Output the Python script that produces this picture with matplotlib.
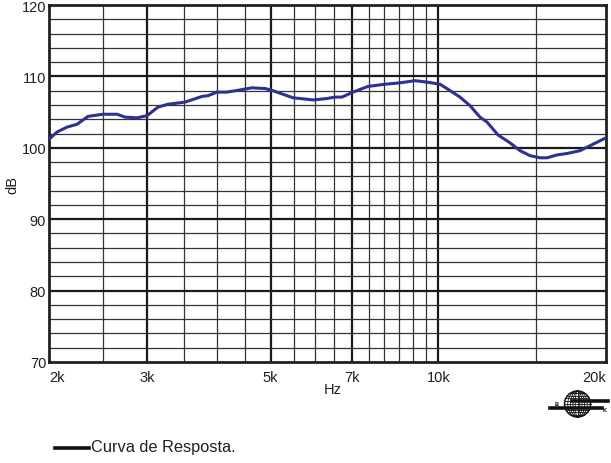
import numpy as np
import matplotlib.pyplot as plt
from matplotlib.patches import Circle, Ellipse

plt.rcParams['font.family'] = ['Liberation Sans', 'DejaVu Sans']

# response curve
freq = [2000, 2067, 2155, 2246, 2350, 2500, 2650, 2738, 2878, 3000,
        3138, 3271, 3510, 3766, 3860, 4004, 4173, 4405, 4628, 4886,
        5048, 5262, 5486, 5810, 5957, 6131, 6311, 6524, 6714, 7030,
        7478, 8022, 8534, 9084, 9543, 10070, 10408, 10938, 11400, 11880,
        12230, 12798, 13448, 14018, 14610, 15226, 15674, 16332, 17022, 17962,
        18954, 20000]
db = [101.2, 102.2, 102.9, 103.3, 104.4, 104.7, 104.7, 104.3, 104.2, 104.5,
      105.7, 106.1, 106.4, 107.2, 107.3, 107.8, 107.8, 108.1, 108.4, 108.3,
      108.0, 107.5, 107.0, 106.8, 106.7, 106.8, 106.9, 107.1, 107.1, 107.8,
      108.6, 108.9, 109.1, 109.4, 109.2, 108.9, 108.2, 107.1, 105.9, 104.3,
      103.6, 101.8, 100.7, 99.6, 98.9, 98.6, 98.6, 99.0, 99.2, 99.6,
      100.5, 101.4]

major_x = [3000, 5000, 7000, 10000]
minor_x = [2500, 3500, 4000, 4500, 5500, 6000, 6500, 7500, 8000, 8500,
           9000, 9500, 15000]
major_y = [80, 90, 100, 110]
minor_y = [y for y in range(72, 120, 2) if y % 10 != 0]
xtick_vals = [2000, 3000, 5000, 7000, 10000, 20000]
xtick_labels = ['2k', '3k', '5k', '7k', '10k', '20k']
ytick_vals = [70, 80, 90, 100, 110, 120]

fig = plt.figure(figsize=(6.11, 4.64), dpi=100)
ax = fig.add_axes([49 / 611, 101 / 464, 557 / 611, 357 / 464])
ax.set_xscale('log')
ax.set_xlim(2000, 20000)
ax.set_ylim(70, 120)

for x in minor_x:
    ax.axvline(x, color='#333333', lw=0.9, zorder=1)
for x in major_x:
    ax.axvline(x, color='#1a1a1a', lw=1.6, zorder=1)
for y in minor_y:
    ax.axhline(y, color='#333333', lw=0.9, zorder=1)
for y in major_y:
    ax.axhline(y, color='#1a1a1a', lw=1.6, zorder=1)

ax.plot(freq, db, color='#2E3192', lw=2.2, zorder=3, solid_capstyle='round')

for s in ax.spines.values():
    s.set_linewidth(2.0)
    s.set_color('#231f20')

ax.minorticks_off()
ax.set_xticks([])
ax.set_yticks(ytick_vals)
ax.set_yticklabels([str(v) for v in ytick_vals], fontsize=10.5, color='#231f20')
ax.tick_params(axis='y', length=0, pad=2)

# x labels placed under the axis
for v, lab in zip(xtick_vals, xtick_labels):
    ha = 'center'
    if v == 2000:
        ha = 'left'
    elif v == 20000:
        ha = 'right'
    ax.annotate(lab, (v, 70), xytext=(0, -11), textcoords='offset points',
                ha=ha, va='center', fontsize=10.5, color='#231f20')

fig.text(333 / 611, 1 - 390 / 464, 'Hz', ha='center', va='center',
         fontsize=10.5, color='#231f20')
fig.text(12 / 611, 1 - 185 / 464, 'dB', ha='center', va='center',
         rotation=90, fontsize=10.5, color='#231f20')

# legend
fig.add_artist(plt.Line2D([55 / 611, 89 / 611], [1 - 449 / 464, 1 - 449 / 464],
                          color='#111111', lw=2.6))
fig.text(91 / 611, 1 - 448 / 464, 'Curva de Resposta.', ha='left', va='center',
         fontsize=11.8, color='#231f20')

# small globe logo
lg = fig.add_axes([545 / 611, 1 - 422 / 464, 65 / 611, 34 / 464])
lg.set_xlim(-32.5, 32.5)
lg.set_ylim(-17, 17)
lg.set_aspect('equal')
lg.axis('off')
r = 13
cx, cy = 0, 0
lg.add_patch(Circle((cx, cy), r, fill=False, lw=1.1, color='#111111'))
for w in [0.35, 0.7, 1.1, 1.5]:
    lg.add_patch(Ellipse((cx, cy), w * r, 2 * r, fill=False, lw=0.6, color='#111111'))
lg.plot([cx, cx], [cy - r, cy + r], color='#111111', lw=0.6)
for yy in np.linspace(-r * 0.85, r * 0.85, 9):
    half = np.sqrt(r ** 2 - yy ** 2)
    lg.plot([cx - half, cx + half], [yy, yy], color='#111111', lw=0.6)
lg.plot([-6, 30], [3, 3], color='#111111', lw=2.6)
lg.plot([-28, 24], [-3.5, -3.5], color='#111111', lw=2.6)
lg.text(-21, 0, 'B', fontsize=4, fontweight='bold', ha='center', va='center')
lg.text(27, -6, 'K', fontsize=4, fontweight='bold', ha='center', va='center')

fig.savefig('out.png', dpi=100)
